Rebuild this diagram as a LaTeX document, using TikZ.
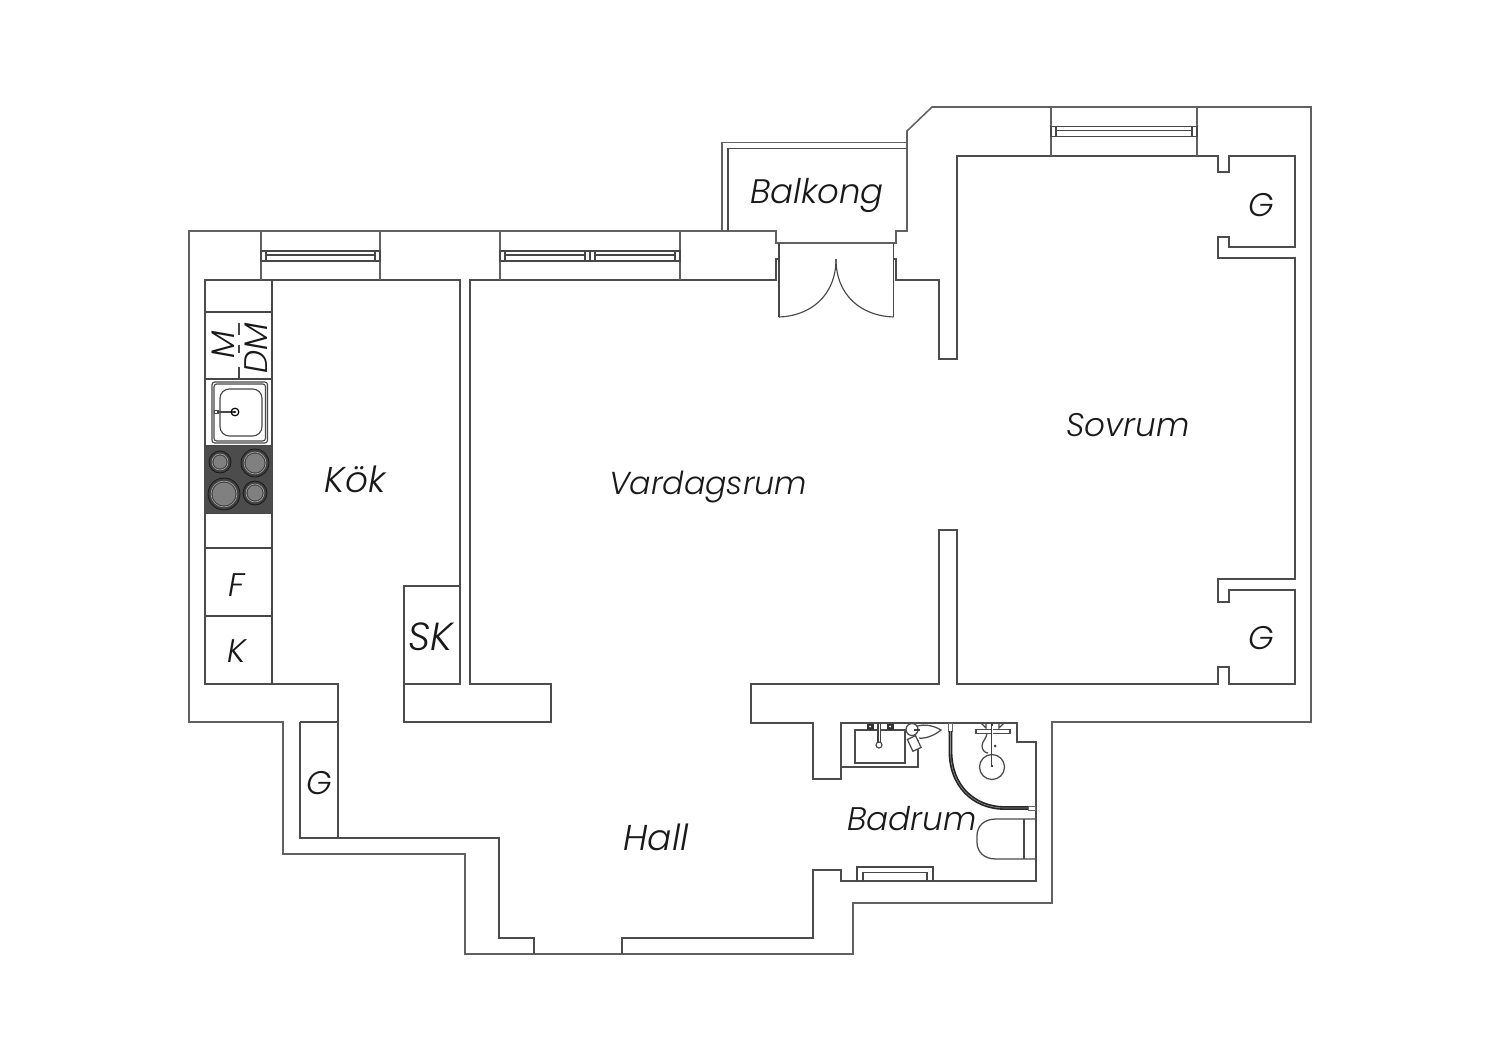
\documentclass[tikz,border=0pt]{standalone}
\usepackage{fontspec}
\setmainfont{Poppins}[ItalicFont=Poppins Light Italic]
\begin{document}
\begin{tikzpicture}[x=0.75pt,y=-0.75pt,line join=miter,
  wall/.style={draw=black!70,line width=0.95pt},
  outerwall/.style={draw=black!62,line width=1.15pt},
  thin/.style={draw=black!72,line width=0.85pt},
  room/.style={font=\itshape\fontsize{24.5}{26}\selectfont,text=black!90,inner sep=0pt},
  lab/.style={font=\itshape\fontsize{24.5}{25}\selectfont,text=black!90,inner sep=0pt}]
\useasboundingbox (0,0) rectangle (1500,1060);
\fill[white] (0,0) rectangle (1500,1060);
% outer and inner wall outline
\draw[outerwall] (189,231)--(776,231)--(776,243)--(896,243)--(896,231)--(907,231)--(907,131)--(932,107)--(1311,107)--(1311,722)--(1052,722)--(1052,903)--(853,903)--(853,954)--(465,954)--(465,854)--(283,854)--(283,722)--(189,722)--cycle;
\draw[wall] (622,954)--(622,938)--(813,938)--(813,870)--(841,870)--(841,881)--(1036,881)--(1036,742)--(1017,742)--(1017,723)--(841,723)--(841,779)--(813,779)--(813,723)--(751,723)--(751,684)--(939,684)--(939,530)--(957,530)--(957,684)--(1218,684)--(1218,667)--(1229,667)--(1229,684)--(1295,684)--(1295,590)--(1229,590)--(1229,602)--(1218,602)--(1218,579)--(1295,579)--(1295,258)--(1218,258)--(1218,237)--(1229,237)--(1229,247)--(1295,247)--(1295,156)--(1229,156)--(1229,172)--(1218,172)--(1218,156)--(957,156)--(957,359)--(939,359)--(939,280)--(896,280)--(896,259)--(893.5,259)--(893.5,317);
\draw[wall] (534,954)--(534,938)--(499,938)--(499,838)--(338,838)--(338,684)--(205,684)--(205,280)--(460,280)--(460,684)--(404,684)--(404,722)--(551,722)--(551,684)--(470,684)--(470,280)--(776,280)--(776,259)--(779,259)--(779,317);
\draw[thin] (779,243)--(779,317);
\draw[thin] (893.5,243)--(893.5,317);
\draw[thin] (779,317) .. controls (810,316) and (836,296) .. (836,259);
\draw[thin] (893.5,317) .. controls (862,316) and (836,296) .. (836,259);
% balcony
\draw[outerwall] (722,231)--(722,142.5)--(907,142.5);
\draw[wall] (728,231)--(728,148.5)--(907,148.5);
% closet and cupboard
\draw[wall] (300,722)--(338,722);
\draw[wall] (300,722)--(300,838)--(338,838);
\draw[wall] (404,684)--(404,586)--(460,586);
% windows
\foreach \a/\b/\t/\d in {261/380/231/280, 500/680/231/280, 1051/1197/107/156}{
  \draw[outerwall] (\a,\t)--(\a,\d) (\b,\t)--(\b,\d);
}
\foreach \a/\b/\y in {261/380/251, 500/590/251, 590/680/251, 1051/1197/126.5}{
  \draw[thin] (\a,\y) rectangle (\b,\y+10);
  \draw[thin] (\a+5,\y) rectangle (\b-5,\y+10);
  \draw[thin] (\a+5,\y+4) -- (\b-5,\y+4);
}
% kitchen
\draw[thin] (272,280)--(272,684);
\foreach \y in {312,379,446,513,548,616}{\draw[thin] (205,\y)--(272,\y);}
\fill[black!70] (205.5,446) rectangle (272,513);
\foreach \x/\y/\r in {220/462/11, 255/463/14, 224/494/16, 255/493/12}{
  \draw[black!90,fill=black!75,line width=0.6pt] (\x,\y) circle (\r);
  \draw[black!35,line width=0.5pt] (\x,\y) circle (\r-3);
  \fill[black!50] (\x,\y) circle (\r-4.5);
}
\draw[thin,dash pattern=on 9pt off 7.5pt on 6pt off 10.5pt on 9pt] (239,323)--(239,379);
\draw[thin,rounded corners=2pt] (212,382) rectangle (267.5,443);
\draw[thin,rounded corners=2pt] (214,384) rectangle (265.5,441);
\draw[thin,rounded corners=7pt] (220,389) rectangle (262,436);
\draw[thin,line width=1.2pt] (215,412)--(235,412);
\draw[black,line width=0.9pt] (235,412) circle (3.8);
\fill[black] (235,412) circle (1.2);
\draw[thin,fill=white] (214.5,410.5) rectangle (218,413.5);
% bathroom
\draw[wall] (841,767)--(918,767)--(918,740);
\draw[wall] (855,730) rectangle (905,763);
\draw[black!75,line width=2.4pt] (879,724)--(879,744);
\draw[white,line width=0.5pt] (879,724)--(879,744);
\draw[thin,fill=white] (879,745) circle (3);
\foreach \x in {870,890}{\fill[black!80] (\x-3.5,723.5) rectangle (\x+3.5,730); \fill[white] (\x,726.5) circle (1);}
\draw[wall,fill=white] (913,728) .. controls (921,723) and (933,725) .. (941,730) .. controls (934,736) and (924,739) .. (919,738);
\draw[wall,fill=white] (912,729.5) circle (6);
\draw[wall,fill=white,rotate around={25:(914,743)}] (909.5,737) rectangle (918.5,750);
\draw[black!75,line width=0.8pt] (920,730)--(914,730);
\draw[black!60,fill=white,line width=0.5pt] (948.5,723) rectangle (952.5,731);
\draw[black!85,line width=2.9pt] (950.5,731)--(950.5,752) .. controls (950.5,784) and (972,808) .. (1005,808)--(1028,808);
\draw[white!55!black,line width=0.45pt] (950.5,731)--(950.5,752) .. controls (950.5,784) and (972,808) .. (1005,808)--(1028,808);
\draw[black!60,fill=white,line width=0.5pt] (1028,806) rectangle (1035.5,810);
\draw[wall] (976,729.5) rectangle (1010,733.5);
\draw[thin] (981,723)--(986,728)--(986,723) (1004,723)--(999,728)--(999,723);
\draw[black!75,line width=2pt] (992,723)--(992,767);
\draw[white,line width=0.5pt] (992,726)--(992,765);
\draw[wall] (987,733) .. controls (987,738) and (982,741) .. (982,746) .. controls (982,750) and (985,753) .. (988,753);
\fill[black!75] (995,746) circle (1.5);
\draw[wall] (992,767) circle (12.5);
\draw[wall] (1036,819)--(996,819) .. controls (984,819) and (977,826) .. (977,836) -- (977,842) .. controls (977,852) and (984,859) .. (996,859)--(1036,859);
\draw[thin] (1024,819)--(1024,859);
\draw[thin] (857,881)--(857,867)--(933,867)--(933,881);
\draw[thin] (863,881)--(863,872.5)--(927,872.5)--(927,881);
% labels
\node[room,scale=1.04] (balkong) at (817,195) {Balkong};
\node[room] (sovrum) at (1128,425) {Sovrum};
\node[room,scale=0.97] (vardag) at (708,487) {Vardagsrum};
\node[room,scale=1.1] (kok) at (355,479) {Kök};
\node[room,scale=1.1] (hall) at (656,837) {Hall};
\node[room] (badrum) at (912,819) {Badrum};
\node[lab] (g1) at (1261,205) {G};
\node[lab] (g2) at (1261,638) {G};
\node[lab] (g3) at (319,783) {G};
\node[lab] (f) at (237,585) {F};
\node[lab] (k) at (237,651) {K};
\node[lab,scale=1.2] (sk) at (431,637) {SK};
\node[lab,rotate=90] (m) at (223,345) {M};
\node[lab,rotate=90] (dm) at (256,348) {DM};
\end{tikzpicture}
\end{document}
